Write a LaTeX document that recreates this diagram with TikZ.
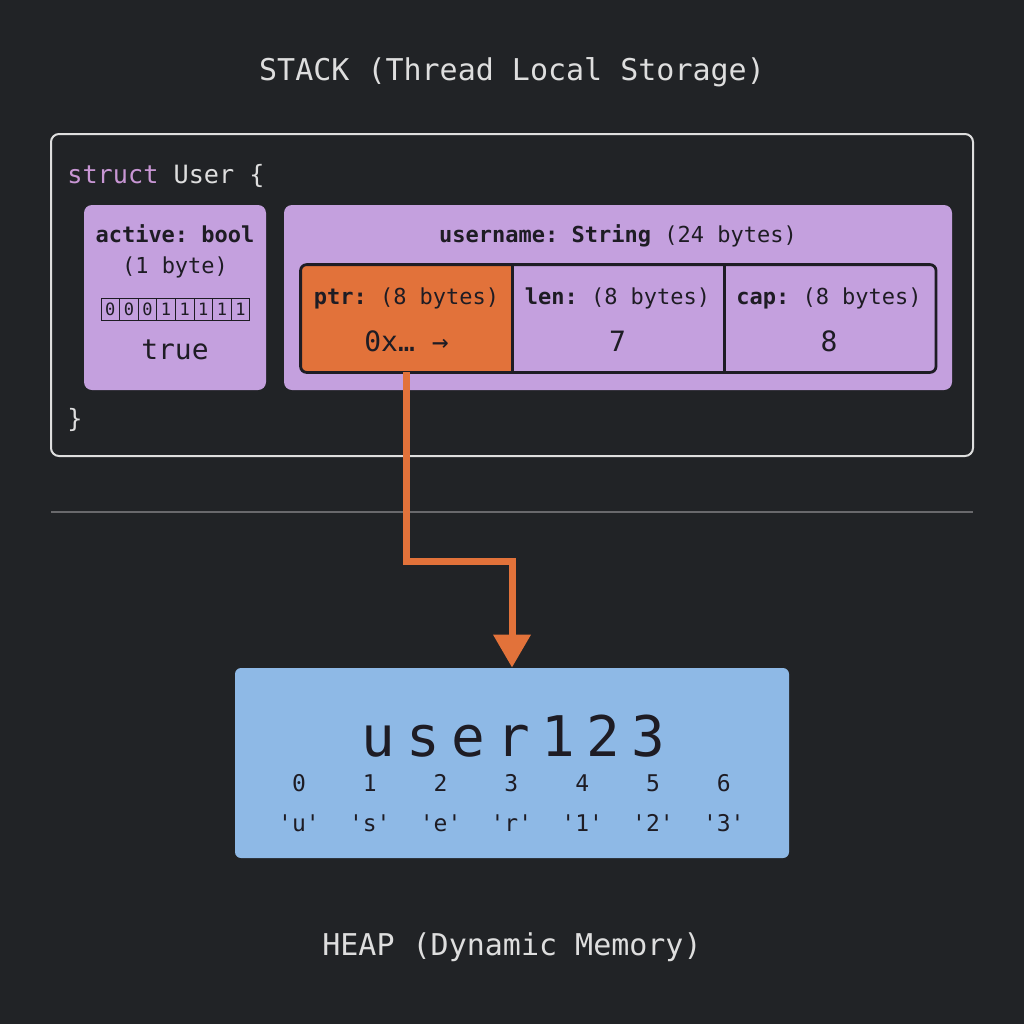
\documentclass[tikz,border=0pt]{standalone}
\usepackage{fontspec}
\setmonofont{DejaVu Sans Mono}
\usepackage{xcolor}
\usepackage{tikz}
\usetikzlibrary{arrows.meta,positioning,calc}

\definecolor{bgdark}{RGB}{33,35,38}
\definecolor{lighttext}{RGB}{222,222,222}
\definecolor{framegray}{RGB}{222,222,222}
\definecolor{rulegray}{RGB}{105,105,108}
\definecolor{kwpink}{RGB}{200,150,212}
\definecolor{fieldpurple}{RGB}{196,160,222}
\definecolor{ptrorange}{RGB}{226,114,58}
\definecolor{heapblue}{RGB}{142,185,230}
\definecolor{inkdark}{RGB}{30,28,36}

\begin{document}
\begin{tikzpicture}[
  x=0.5pt, y=-0.5pt, font=\ttfamily,
  caption/.style={text=lighttext, inner sep=0pt, font=\ttfamily\fontsize{15}{18}\selectfont},
  panel/.style={draw=framegray, line width=1pt, rounded corners=4pt, minimum width=461pt, minimum height=161pt},
  field/.style={fill=fieldpurple, rounded corners=4pt, inner sep=0pt},
  cell/.style={minimum width=105.5pt, minimum height=53.5pt, inner sep=0pt},
  fieldtxt/.style={text=inkdark, inner sep=0pt, yshift=-1.5pt, text height=8pt, text depth=2.5pt, font=\ttfamily\fontsize{11}{13}\selectfont},
  valtxt/.style={text=inkdark, inner sep=0pt, yshift=-1.5pt, text height=10.5pt, text depth=3pt, font=\ttfamily\fontsize{14}{16}\selectfont},
  bitcell/.style={draw=inkdark, line width=0.4pt, minimum width=9.3pt, minimum height=11pt, inner sep=0pt, text=inkdark, font=\ttfamily\fontsize{8.5}{9}\selectfont},
  heapchar/.style={text=inkdark, inner sep=0pt, anchor=base, font=\ttfamily\fontsize{28}{30}\selectfont},
  idxtxt/.style={text=inkdark, inner sep=0pt, yshift=-1.5pt, text height=8.5pt, text depth=2.5pt, font=\ttfamily\fontsize{11.5}{13}\selectfont},
  ptrarrow/.style={draw=ptrorange, line width=3.5pt, -{Triangle[length=16.5pt, width=18pt]}}
]
\fill[bgdark] (0,0) rectangle (1024,1024);
\useasboundingbox (0,0) rectangle (1024,1024);

% stack
\node[caption] (stacktitle) at (512,72) {STACK (Thread Local Storage)};
\node[panel] (stack) at (512,295) {};
\node[inner sep=0pt, anchor=west, font=\ttfamily\fontsize{12.6}{15}\selectfont] (structopen) at (67,176) {\textcolor{kwpink}{struct} \textcolor{lighttext}{User \{}};
\node[inner sep=0pt, anchor=west, text=lighttext, font=\ttfamily\fontsize{12.6}{15}\selectfont] (structclose) at (67,420) {\}};

% active: bool
\node[field, minimum width=91pt, minimum height=92.5pt] (active) at (175,297.5) {};
\node[fieldtxt] (activename) at (175,234) {\textbf{active: bool}};
\node[fieldtxt] (activesize) at (175,265) {(1 byte)};
\foreach \b [count=\i from 0] in {0,0,0,1,1,1,1,1}
  \node[bitcell] (bit\i) at (110.3+18.6*\i,309) {\b};
\node[valtxt] (activeval) at (175,349) {true};

% username: String
\node[field, minimum width=334pt, minimum height=92.5pt] (username) at (618,297.5) {};
\node[fieldtxt] (usernamename) at (618,234) {\textbf{username: String} (24 bytes)};
\node[cell] (ptr) at (406.5,318.5) {};
\node[cell, right=0pt of ptr] (len) {};
\node[cell, right=0pt of len] (cap) {};
\fill[ptrorange] (ptr.south east) -- (ptr.north east) [rounded corners=3pt] -- (ptr.north west) -- (ptr.south west) [sharp corners] -- cycle;
\draw[inkdark, line width=1.4pt, rounded corners=3pt] (ptr.north west) rectangle (cap.south east);
\draw[inkdark, line width=1.4pt] (ptr.north east) -- (ptr.south east);
\draw[inkdark, line width=1.4pt] (len.north east) -- (len.south east);
\node[fieldtxt] (ptrname) at (406.5,296) {\textbf{ptr:} (8 bytes)};
\node[valtxt] (ptrval) at (406.5,341) {0x… →};
\node[fieldtxt] (lenname) at (617.5,296) {\textbf{len:} (8 bytes)};
\node[valtxt] (lenval) at (617.5,341) {7};
\node[fieldtxt] (capname) at (829,296) {\textbf{cap:} (8 bytes)};
\node[valtxt] (capval) at (829,341) {8};

% divider
\coordinate (ruleleft) at (51,512);
\coordinate (ruleright) at (973,512);
\draw[rulegray, line width=1pt] (ruleleft) -- (ruleright);

% heap
\node[fill=heapblue, rounded corners=3pt, minimum width=277pt, minimum height=95pt, inner sep=0pt] (heap) at (512,763) {};
\foreach \c [count=\i from 0] in {u,s,e,r,1,2,3}
  \node[heapchar] (char\i) at (378+45*\i,756) {\c};
\foreach \c [count=\i from 0] in {u,s,e,r,1,2,3} {
  \node[idxtxt] (idx\i) at (299+70.8*\i,782) {\i};
  \node[idxtxt] (byte\i) at (299+70.8*\i,822) {'\c'};
}
\node[caption] (heaptitle) at (512,947) {HEAP (Dynamic Memory)};

% pointer
\coordinate (bendtop) at (406.5,561);
\coordinate (bendbot) at (512,561);
\draw[ptrarrow] (ptr.south) -- (bendtop) -- (bendbot) -- (heap.north);
\end{tikzpicture}
\end{document}
